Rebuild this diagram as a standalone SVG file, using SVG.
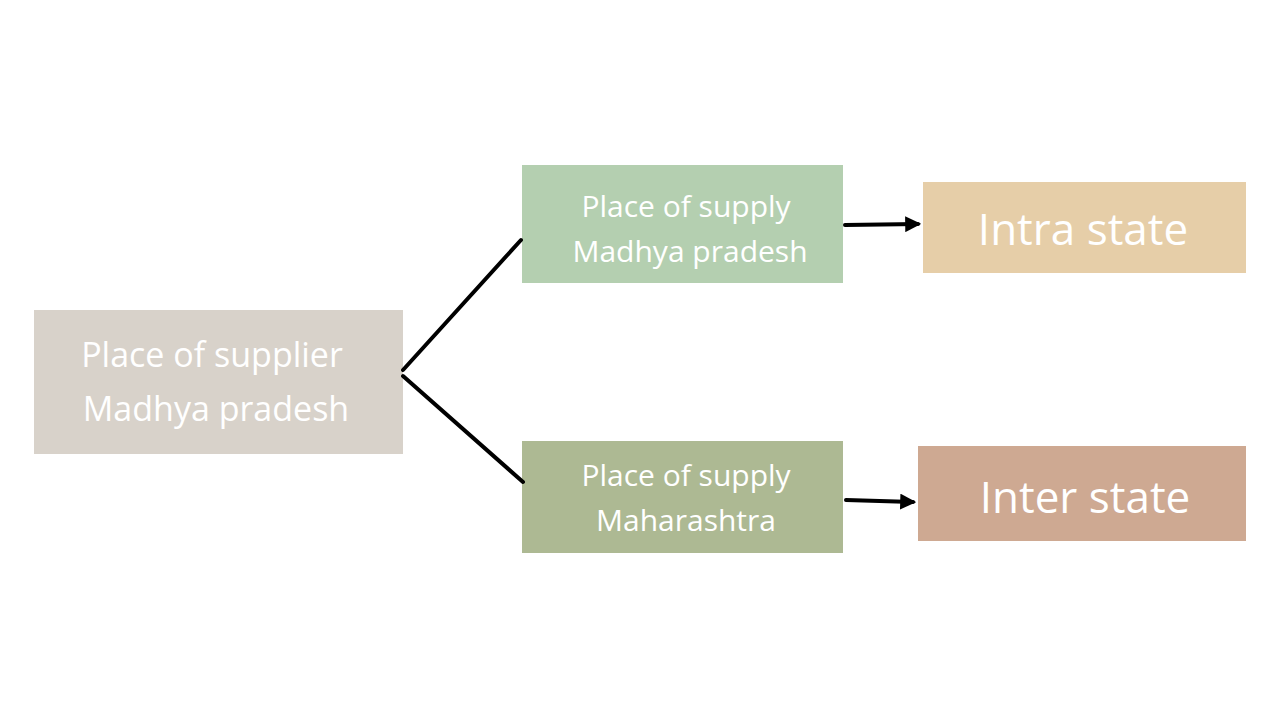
<svg xmlns="http://www.w3.org/2000/svg" width="1280" height="720" viewBox="0 0 1280 720">
<defs>
<style>
text{font-family:"Open Sans","Liberation Sans",sans-serif;fill:#fff;text-anchor:middle}
.c{stroke:#000;stroke-width:4;fill:none;stroke-linecap:round}
</style>
<marker id="a" viewBox="0 0 10 10" refX="8" refY="5" markerWidth="4" markerHeight="4" orient="auto"><path d="M0,0L10,5L0,10z" fill="#000"/></marker>
</defs>
<rect width="1280" height="720" fill="#fff"/>
<g id="supplier"><rect x="34" y="310" width="369" height="144" fill="#d8d2ca"/><text x="212" y="367" font-size="34">Place of supplier</text><text x="216" y="421" font-size="34">Madhya pradesh</text></g>
<g id="supplyMP"><rect x="522" y="165" width="321" height="118" fill="#b4cfb0"/><text x="686" y="217" font-size="30">Place of supply</text><text x="690" y="262" font-size="30">Madhya pradesh</text></g>
<g id="supplyMH"><rect x="522" y="441" width="321" height="112" fill="#adb993"/><text x="686" y="486" font-size="30">Place of supply</text><text x="686" y="531" font-size="30">Maharashtra</text></g>
<g id="intra"><rect x="923" y="182" width="323" height="91" fill="#e6cea8"/><text x="1083" y="245" font-size="44">Intra state</text></g>
<g id="inter"><rect x="918" y="446" width="328" height="95" fill="#cea992"/><text x="1085" y="513" font-size="44">Inter state</text></g>
<g id="connectors">
<path class="c" d="M403,370L521,240"/>
<path class="c" d="M403,376L523,482"/>
<path class="c" d="M845,225L918,224" marker-end="url(#a)"/>
<path class="c" d="M846,500L913,502" marker-end="url(#a)"/>
</g>
</svg>
